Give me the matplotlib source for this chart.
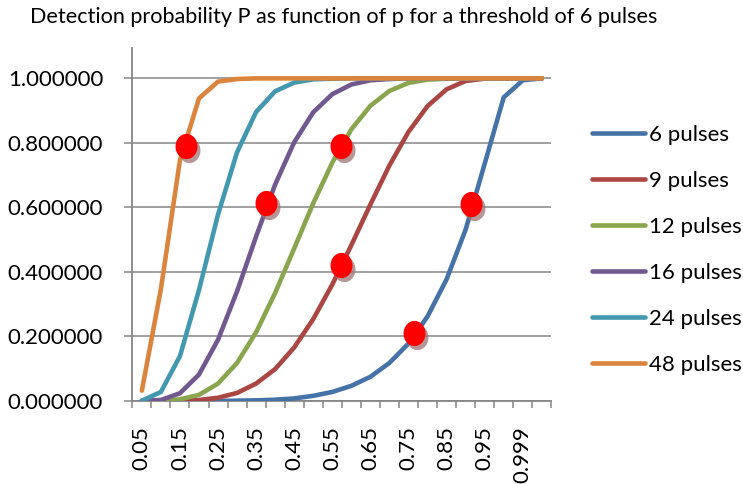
import numpy as np
import matplotlib
matplotlib.use("Agg")
import matplotlib.pyplot as plt
from matplotlib.path import Path
from matplotlib.transforms import ScaledTranslation

plt.rcParams['font.family'] = ['Lato', 'DejaVu Sans']

# probability per pulse (category axis)
p_labels = ["0.05", "0.1", "0.15", "0.2", "0.25", "0.3", "0.35", "0.4", "0.45", "0.5",
            "0.55", "0.6", "0.65", "0.7", "0.75", "0.8", "0.85", "0.9", "0.95", "0.99",
            "0.999", "1"]

# detection probability P for each number of pulses
P6 = [0.000, 0.000, 0.000, 0.000, 0.000, 0.001, 0.002, 0.004, 0.008, 0.016, 0.028,
      0.047, 0.075, 0.118, 0.178, 0.262, 0.377, 0.531, 0.735, 0.941, 0.994, 1.000]
P9 = [0.000, 0.000, 0.001, 0.003, 0.010, 0.025, 0.054, 0.099, 0.166, 0.254, 0.361,
      0.483, 0.609, 0.730, 0.834, 0.914, 0.966, 0.992, 0.999, 1.000, 1.000, 1.000]
P12 = [0.000, 0.001, 0.005, 0.019, 0.054, 0.118, 0.213, 0.335, 0.473, 0.613, 0.739,
       0.842, 0.915, 0.961, 0.986, 0.996, 0.999, 1.000, 1.000, 1.000, 1.000, 1.000]
P16 = [0.000, 0.003, 0.024, 0.082, 0.190, 0.340, 0.510, 0.671, 0.802, 0.895, 0.951,
       0.981, 0.994, 0.998, 1.000, 1.000, 1.000, 1.000, 1.000, 1.000, 1.000, 1.000]
P24 = [0.001, 0.028, 0.139, 0.344, 0.578, 0.771, 0.896, 0.960, 0.987, 0.997, 0.999,
       1.000, 1.000, 1.000, 1.000, 1.000, 1.000, 1.000, 1.000, 1.000, 1.000, 1.000]
P48 = [0.032, 0.347, 0.746, 0.938, 0.990, 0.998, 1.000, 1.000, 1.000, 1.000, 1.000,
       1.000, 1.000, 1.000, 1.000, 1.000, 1.000, 1.000, 1.000, 1.000, 1.000, 1.000]

series = [P6, P9, P12, P16, P24, P48]
names = ["6 pulses", "9 pulses", "12 pulses", "16 pulses", "24 pulses", "48 pulses"]
colors = ["#4572A7", "#AA4643", "#89A54E", "#71588F", "#4198AF", "#DB843D"]

# red marker points (category position, P)
dot_x = [2.33, 6.51, 10.45, 10.45, 14.31, 17.27]
dot_y = [0.791, 0.614, 0.791, 0.420, 0.212, 0.611]

fig = plt.figure(figsize=(7.43, 4.84), dpi=100)
ax = fig.add_axes([0.1781, 0.1715, 0.5639, 0.7299])

x = np.arange(len(p_labels))
for vals, name, c in zip(series, names, colors):
    ax.plot(x, vals, color=c, lw=3.3, label=name, solid_capstyle='round',
            solid_joinstyle='round', zorder=3)

# slightly taller-than-wide ellipse marker with a soft shadow
t = np.linspace(0, 2 * np.pi, 60)
ell = Path(np.column_stack([np.cos(t) * 0.87, np.sin(t)]), closed=True)
shadow_tr = ax.transData + ScaledTranslation(3 / 100, -4 / 100, fig.dpi_scale_trans)
ax.scatter(dot_x, dot_y, s=330, marker=ell, color=(0.62, 0.45, 0.45), alpha=0.75,
           linewidths=0, transform=shadow_tr, zorder=4)
ax.scatter(dot_x, dot_y, s=330, marker=ell, color="#FF0000", linewidths=0, zorder=5)

grid_c = "#868686"
ax.set_xlim(-0.5, len(p_labels) - 0.5)
ax.set_ylim(0, 1.095)
ax.set_yticks(np.arange(0, 1.01, 0.2))
ax.set_yticklabels(["%.6f" % v for v in np.arange(0, 1.01, 0.2)])
ax.yaxis.grid(True, color=grid_c, lw=1.1)
ax.set_axisbelow(True)

ax.set_xticks(x[::2])
ax.set_xticklabels(p_labels[::2], rotation=90, va='top', ha='center')
ax.set_xticks(np.arange(-0.5, len(p_labels)), minor=True)
ax.tick_params(axis='x', which='major', length=0, pad=18, labelsize=16)
ax.tick_params(axis='x', which='minor', length=5, width=1.1, color=grid_c)
ax.tick_params(axis='y', length=6, width=1.1, color=grid_c, pad=15, labelsize=16)

for s in ['top', 'right']:
    ax.spines[s].set_visible(False)
for s in ['left', 'bottom']:
    ax.spines[s].set_color(grid_c)
    ax.spines[s].set_linewidth(1.3)

fig.text(0.463, 1 - 23 / 484, "Detection probability P as function of p for a threshold of 6 pulses",
         ha='center', va='baseline', fontsize=15.6)

leg = ax.legend(loc='center left', bbox_to_anchor=(591.7 / 743, 1 - 250 / 484),
                bbox_transform=fig.transFigure, frameon=False, fontsize=16,
                handlelength=2.4, handletextpad=0.2, labelspacing=1.17,
                borderaxespad=0, borderpad=0)
for line in leg.get_lines():
    line.set_linewidth(3.3)

fig.savefig("out.png", dpi=100)
